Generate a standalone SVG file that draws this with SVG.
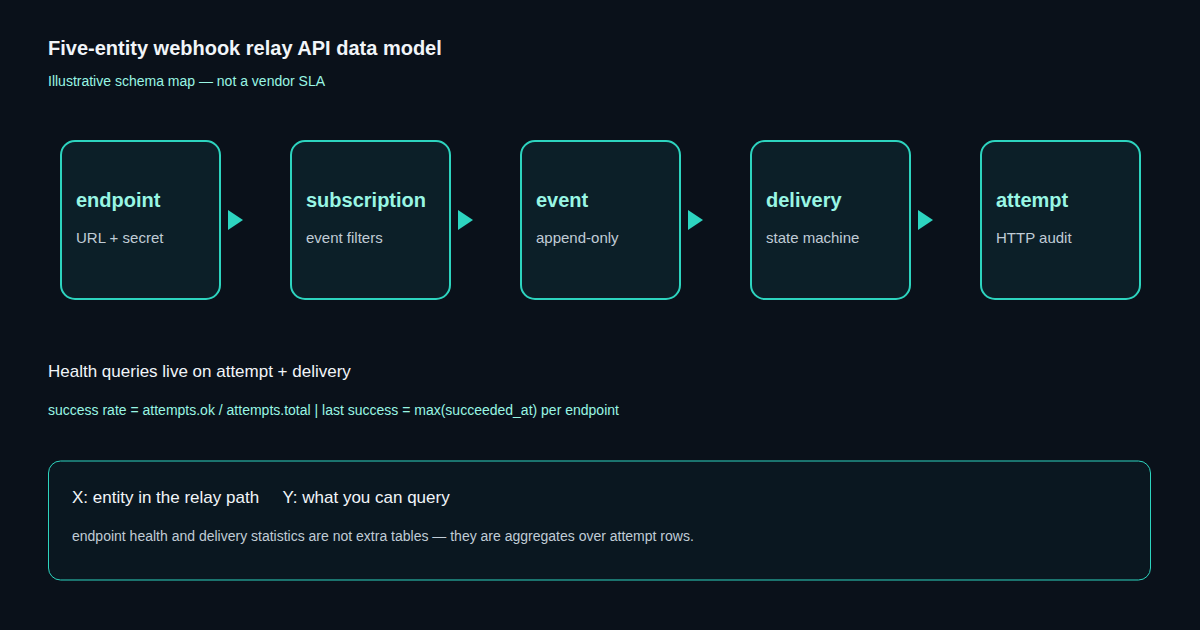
<svg xmlns="http://www.w3.org/2000/svg" width="1200" height="630" viewBox="0 0 1200 630">
<style>
text{font-family:"Liberation Sans",Arial,sans-serif}
.box{fill:#0c1f28;stroke:#2dd4bf;stroke-width:2}
.t{font-size:20px;font-weight:bold;fill:#99f6e4}
.s{font-size:15px;fill:#c0ccd6}
.arr{fill:#2dd4bf}
</style>
<rect width="1200" height="630" fill="#0a111a"/>
<text x="48" y="55" font-size="20" font-weight="bold" fill="#f1f5f9">Five-entity webhook relay API data model</text>
<text x="48" y="86" font-size="14" fill="#99f6e4">Illustrative schema map — not a vendor SLA</text>
<g id="endpoint"><rect class="box" x="61" y="141" width="159" height="158" rx="14"/><text class="t" x="76" y="207">endpoint</text><text class="s" x="76" y="243">URL + secret</text></g>
<g id="subscription"><rect class="box" x="291" y="141" width="159" height="158" rx="14"/><text class="t" x="306" y="207">subscription</text><text class="s" x="306" y="243">event filters</text></g>
<g id="event"><rect class="box" x="521" y="141" width="159" height="158" rx="14"/><text class="t" x="536" y="207">event</text><text class="s" x="536" y="243">append-only</text></g>
<g id="delivery"><rect class="box" x="751" y="141" width="159" height="158" rx="14"/><text class="t" x="766" y="207">delivery</text><text class="s" x="766" y="243">state machine</text></g>
<g id="attempt"><rect class="box" x="981" y="141" width="159" height="158" rx="14"/><text class="t" x="996" y="207">attempt</text><text class="s" x="996" y="243">HTTP audit</text></g>
<g id="connectors">
<polygon class="arr" points="228,210 243,220 228,230"/>
<polygon class="arr" points="458,210 473,220 458,230"/>
<polygon class="arr" points="688,210 703,220 688,230"/>
<polygon class="arr" points="918,210 933,220 918,230"/>
</g>
<text x="48" y="377" font-size="17" fill="#f1f5f9">Health queries live on attempt + delivery</text>
<text x="48" y="415" font-size="14" fill="#99f6e4">success rate = attempts.ok / attempts.total  |  last success = max(succeeded_at) per endpoint</text>
<g id="legend"><rect x="48.5" y="461" width="1102" height="119" rx="12" fill="#0a1720" stroke="#2dd4bf" stroke-width="1"/>
<text x="72" y="503" font-size="17" fill="#f1f5f9" xml:space="preserve">X: entity in the relay path     Y: what you can query</text>
<text x="72" y="541" font-size="14" fill="#c0ccd6">endpoint health and delivery statistics are not extra tables — they are aggregates over attempt rows.</text></g>
</svg>
